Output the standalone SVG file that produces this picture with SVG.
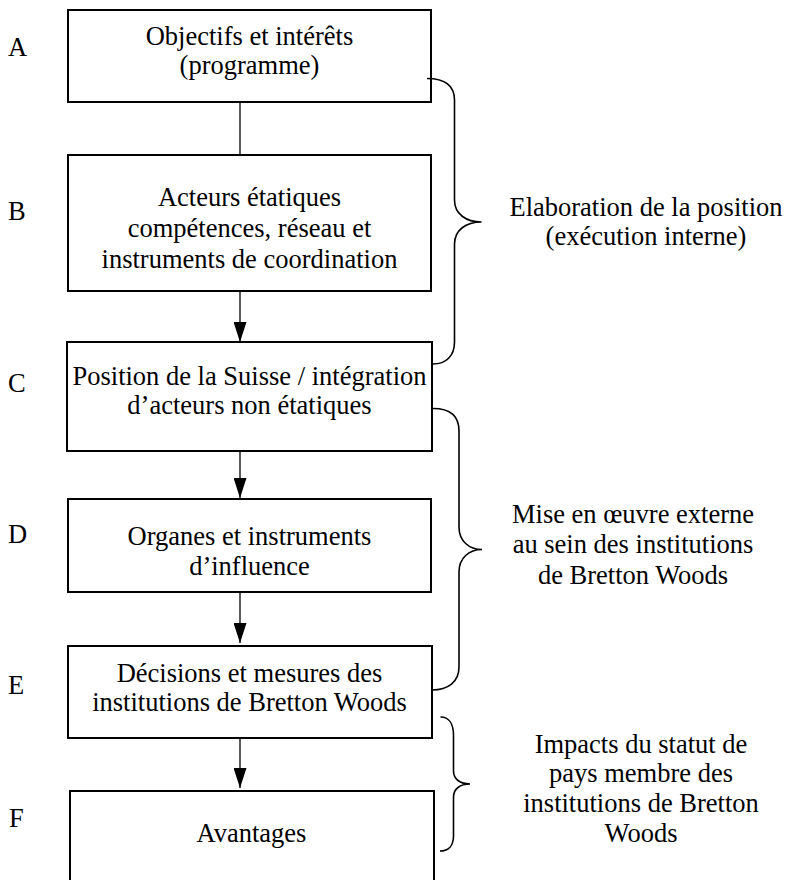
<svg xmlns="http://www.w3.org/2000/svg" width="787" height="880" viewBox="0 0 787 880">
<style>
  .box { fill: #fff; stroke: #000; stroke-width: 2; }
  .conn { stroke: #000; stroke-width: 1.3; fill: none; }
  .brace { stroke: #000; stroke-width: 1.6; fill: none; }
</style>
<defs>
  <marker id="arrow" markerUnits="userSpaceOnUse" markerWidth="20" markerHeight="13" refX="20" refY="6.5" orient="auto">
    <path d="M0,0 L20,6.5 L0,13 Z" fill="#000"/>
  </marker>
</defs>
<rect width="787" height="880" fill="#fff"/>

<g id="connectors">
  <line class="conn" x1="240" y1="102" x2="240" y2="155"/>
  <line class="conn" x1="240" y1="291" x2="240" y2="342" marker-end="url(#arrow)"/>
  <line class="conn" x1="240" y1="451" x2="240" y2="498" marker-end="url(#arrow)"/>
  <line class="conn" x1="240" y1="592" x2="240" y2="643" marker-end="url(#arrow)"/>
  <line class="conn" x1="240" y1="738" x2="240" y2="788" marker-end="url(#arrow)"/>
</g>

<g font-family="Liberation Serif" font-size="26.5" fill="#000">
<g id="nodeA">
  <rect class="box" x="68" y="10" width="363" height="92"/>
  <text text-anchor="middle" x="249.5" y="45">Objectifs et intérêts</text>
  <text text-anchor="middle" x="249.5" y="74">(programme)</text>
  <text x="8" y="56">A</text>
</g>
<g id="nodeB">
  <rect class="box" x="68" y="155" width="363" height="136"/>
  <text text-anchor="middle" x="249.5" y="206">Acteurs étatiques</text>
  <text text-anchor="middle" x="249.5" y="237">compétences, réseau et</text>
  <text text-anchor="middle" x="249.5" y="268">instruments de coordination</text>
  <text x="8" y="220">B</text>
</g>
<g id="nodeC">
  <rect class="box" x="67" y="342" width="365" height="109"/>
  <text text-anchor="middle" x="249.5" y="385">Position de la Suisse / intégration</text>
  <text text-anchor="middle" x="249.5" y="414">d’acteurs non étatiques</text>
  <text x="8" y="392">C</text>
</g>
<g id="nodeD">
  <rect class="box" x="68" y="499" width="363" height="93"/>
  <text text-anchor="middle" x="249.5" y="545">Organes et instruments</text>
  <text text-anchor="middle" x="249.5" y="575">d’influence</text>
  <text x="8" y="543">D</text>
</g>
<g id="nodeE">
  <rect class="box" x="68" y="646" width="364" height="92"/>
  <text text-anchor="middle" x="249.5" y="682">Décisions et mesures des</text>
  <text text-anchor="middle" x="249.5" y="711">institutions de Bretton Woods</text>
  <text x="8" y="694">E</text>
</g>
<g id="nodeF">
  <rect class="box" x="70" y="791" width="364" height="110"/>
  <text text-anchor="middle" x="251.5" y="842">Avantages</text>
  <text x="9" y="827">F</text>
</g>

<g id="brace1">
  <path class="brace" d="M427,78.5 C445,78.5 454.5,86 454.5,100 L454.5,200 C454.5,214 466,222 481.5,222 C466,222 454.5,230 454.5,244 L454.5,342 C454.5,356 446,364 433,364"/>
  <text text-anchor="middle" x="646" y="216">Elaboration de la position</text>
  <text text-anchor="middle" x="646" y="245">(exécution interne)</text>
</g>
<g id="brace2">
  <path class="brace" d="M433,408.5 C450,408.5 459,416 459,431 L459,527 C459,541 469,549.5 482,549.5 C469,549.5 459,558 459,572 L459,667 C459,682 448,690 432,690"/>
  <text text-anchor="middle" x="633" y="523">Mise en œuvre externe</text>
  <text text-anchor="middle" x="633" y="553">au sein des institutions</text>
  <text text-anchor="middle" x="633" y="584">de Bretton Woods</text>
</g>
<g id="brace3">
  <path class="brace" d="M440.5,717 C449,717 453.5,724 453.5,735 L453.5,771 C453.5,779 460,784 470,784 C460,784 453.5,789 453.5,797 L453.5,836 C453.5,845 449,851 440,851"/>
  <text text-anchor="middle" x="641" y="753">Impacts du statut de</text>
  <text text-anchor="middle" x="641" y="782">pays membre des</text>
  <text text-anchor="middle" x="641" y="812">institutions de Bretton</text>
  <text text-anchor="middle" x="641" y="842">Woods</text>
</g>
</g>
</svg>
